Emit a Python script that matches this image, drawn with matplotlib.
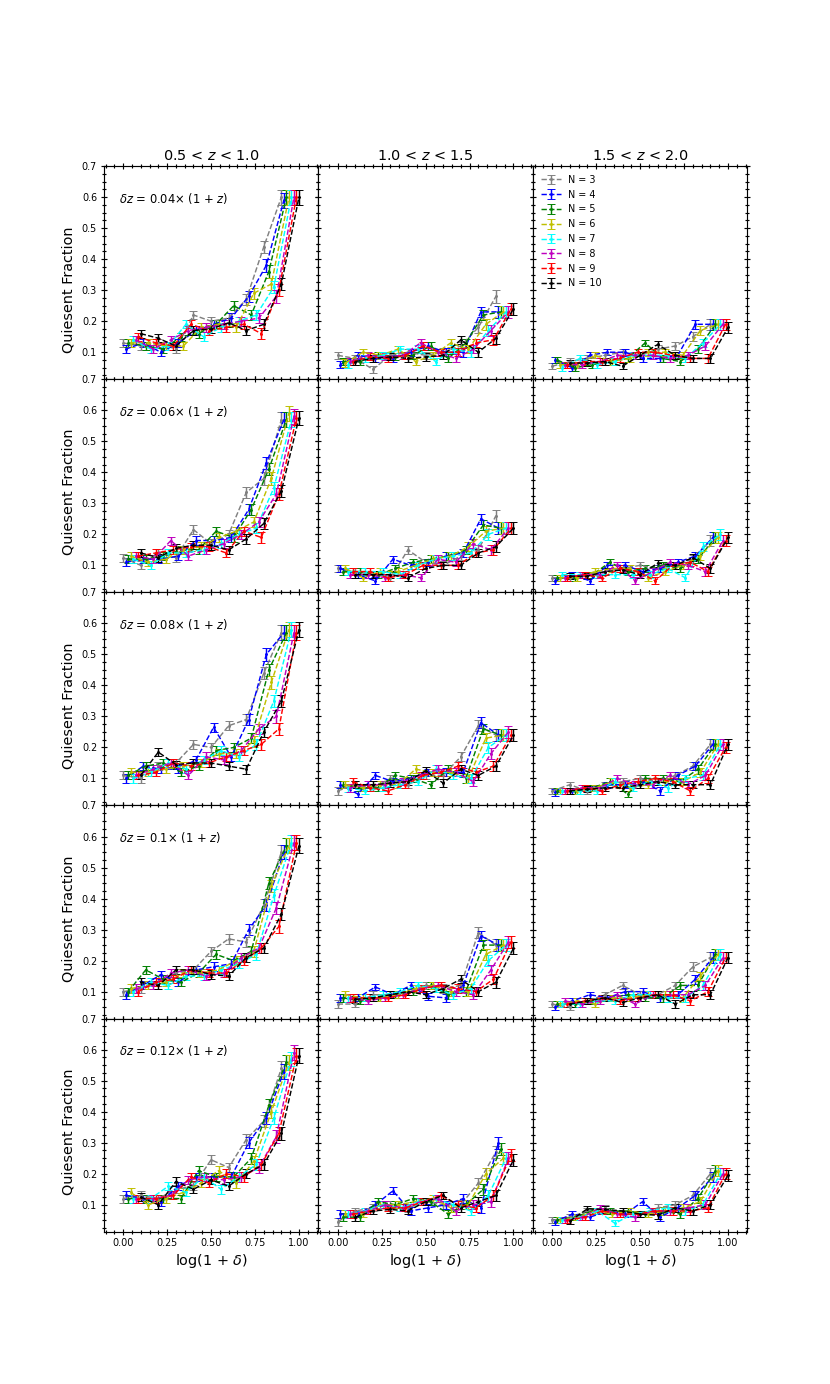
import numpy as np
import matplotlib.pyplot as plt
from matplotlib.ticker import MultipleLocator

z_bins = ['0.5 < $z$ < 1.0', '1.0 < $z$ < 1.5', '1.5 < $z$ < 2.0']
dz_labels = ['0.04', '0.06', '0.08', '0.1', '0.12']
n_values = [3, 4, 5, 6, 7, 8, 9, 10]
colors = ['gray', 'b', 'g', 'y', 'cyan', 'm', 'r', 'k']

# log(1+delta) bin centres
bins = [0.0, 0.1, 0.2, 0.3, 0.4, 0.5, 0.6, 0.7, 0.8, 0.9]

# typical error bar half-widths per redshift bin
err_z05 = [0.013, 0.013, 0.013, 0.013, 0.014, 0.014, 0.015, 0.017, 0.020, 0.024]
err_z10 = [0.012, 0.011, 0.011, 0.011, 0.012, 0.012, 0.013, 0.014, 0.017, 0.020]
err_z15 = [0.010, 0.010, 0.010, 0.010, 0.011, 0.011, 0.012, 0.012, 0.014, 0.017]

# quiescent fractions, one row per N = 3..10
dz04_z05 = [[0.13, 0.12, 0.13, 0.11, 0.22, 0.20, 0.21, 0.27, 0.44, 0.60],
            [0.11, 0.13, 0.10, 0.13, 0.17, 0.19, 0.21, 0.28, 0.38, 0.59],
            [0.13, 0.12, 0.11, 0.15, 0.16, 0.19, 0.25, 0.22, 0.36, 0.60],
            [0.13, 0.13, 0.12, 0.12, 0.18, 0.19, 0.18, 0.29, 0.32, 0.60],
            [0.14, 0.11, 0.12, 0.19, 0.15, 0.18, 0.20, 0.22, 0.31, 0.60],
            [0.14, 0.11, 0.14, 0.17, 0.18, 0.19, 0.20, 0.21, 0.28, 0.60],
            [0.15, 0.13, 0.12, 0.19, 0.17, 0.18, 0.19, 0.16, 0.30, 0.60],
            [0.16, 0.145, 0.12, 0.17, 0.175, 0.195, 0.17, 0.19, 0.32, 0.60]]
dz04_z10 = [[0.09, 0.08, 0.045, 0.09, 0.10, 0.09, 0.10, 0.12, 0.18, 0.28],
            [0.06, 0.09, 0.08, 0.08, 0.10, 0.12, 0.10, 0.10, 0.23, 0.23],
            [0.07, 0.07, 0.09, 0.085, 0.09, 0.12, 0.08, 0.13, 0.22, 0.23],
            [0.065, 0.10, 0.09, 0.11, 0.07, 0.09, 0.13, 0.11, 0.19, 0.23],
            [0.06, 0.08, 0.09, 0.11, 0.11, 0.07, 0.11, 0.10, 0.17, 0.23],
            [0.07, 0.09, 0.085, 0.09, 0.13, 0.10, 0.08, 0.11, 0.17, 0.23],
            [0.07, 0.085, 0.08, 0.09, 0.12, 0.10, 0.10, 0.13, 0.14, 0.24],
            [0.07, 0.08, 0.085, 0.08, 0.085, 0.09, 0.14, 0.10, 0.145, 0.24]]
dz04_z15 = [[0.055, 0.07, 0.08, 0.09, 0.10, 0.09, 0.11, 0.12, 0.15, 0.19],
            [0.075, 0.05, 0.09, 0.10, 0.10, 0.08, 0.08, 0.09, 0.19, 0.19],
            [0.075, 0.05, 0.06, 0.07, 0.08, 0.13, 0.08, 0.07, 0.11, 0.19],
            [0.06, 0.06, 0.09, 0.07, 0.08, 0.10, 0.10, 0.09, 0.17, 0.19],
            [0.05, 0.08, 0.06, 0.07, 0.09, 0.09, 0.09, 0.08, 0.13, 0.19],
            [0.06, 0.06, 0.07, 0.09, 0.09, 0.09, 0.08, 0.09, 0.12, 0.19],
            [0.06, 0.07, 0.07, 0.08, 0.10, 0.10, 0.09, 0.08, 0.08, 0.19],
            [0.065, 0.065, 0.07, 0.055, 0.09, 0.125, 0.09, 0.08, 0.08, 0.18]]

dz06_z05 = [[0.125, 0.10, 0.14, 0.125, 0.215, 0.17, 0.20, 0.335, 0.38, 0.57],
            [0.11, 0.12, 0.12, 0.13, 0.18, 0.18, 0.19, 0.28, 0.43, 0.57],
            [0.12, 0.12, 0.13, 0.15, 0.15, 0.21, 0.19, 0.28, 0.41, 0.57],
            [0.13, 0.11, 0.12, 0.15, 0.16, 0.19, 0.21, 0.24, 0.38, 0.59],
            [0.12, 0.10, 0.14, 0.14, 0.15, 0.17, 0.20, 0.22, 0.35, 0.57],
            [0.13, 0.12, 0.18, 0.13, 0.15, 0.17, 0.20, 0.24, 0.33, 0.58],
            [0.13, 0.14, 0.15, 0.16, 0.16, 0.14, 0.21, 0.19, 0.33, 0.575],
            [0.14, 0.125, 0.155, 0.165, 0.165, 0.15, 0.185, 0.235, 0.34, 0.575]]
dz06_z10 = [[0.09, 0.08, 0.07, 0.06, 0.15, 0.11, 0.10, 0.13, 0.15, 0.26],
            [0.09, 0.07, 0.05, 0.12, 0.10, 0.11, 0.13, 0.14, 0.25, 0.22],
            [0.08, 0.08, 0.07, 0.09, 0.11, 0.12, 0.13, 0.15, 0.23, 0.22],
            [0.09, 0.06, 0.08, 0.08, 0.10, 0.12, 0.13, 0.16, 0.21, 0.22],
            [0.08, 0.08, 0.08, 0.07, 0.10, 0.12, 0.13, 0.14, 0.20, 0.22],
            [0.07, 0.07, 0.06, 0.07, 0.06, 0.12, 0.11, 0.17, 0.15, 0.22],
            [0.08, 0.08, 0.06, 0.07, 0.10, 0.10, 0.10, 0.14, 0.15, 0.22],
            [0.07, 0.07, 0.07, 0.06, 0.09, 0.10, 0.10, 0.14, 0.16, 0.22]]
dz06_z15 = [[0.06, 0.06, 0.07, 0.08, 0.09, 0.10, 0.09, 0.10, 0.12, 0.18],
            [0.05, 0.07, 0.05, 0.10, 0.10, 0.08, 0.09, 0.11, 0.13, 0.19],
            [0.06, 0.06, 0.07, 0.11, 0.08, 0.09, 0.10, 0.09, 0.12, 0.19],
            [0.06, 0.06, 0.08, 0.09, 0.09, 0.06, 0.08, 0.10, 0.13, 0.19],
            [0.07, 0.07, 0.07, 0.07, 0.07, 0.07, 0.09, 0.06, 0.16, 0.20],
            [0.06, 0.07, 0.07, 0.10, 0.05, 0.08, 0.11, 0.10, 0.08, 0.18],
            [0.06, 0.07, 0.06, 0.09, 0.08, 0.05, 0.10, 0.11, 0.08, 0.18],
            [0.065, 0.065, 0.08, 0.085, 0.07, 0.107, 0.10, 0.125, 0.09, 0.19]]

dz08_z05 = [[0.11, 0.10, 0.14, 0.15, 0.21, 0.20, 0.27, 0.29, 0.44, 0.57],
            [0.10, 0.14, 0.13, 0.13, 0.16, 0.265, 0.17, 0.29, 0.50, 0.57],
            [0.11, 0.14, 0.15, 0.12, 0.14, 0.19, 0.20, 0.23, 0.45, 0.57],
            [0.12, 0.12, 0.13, 0.14, 0.15, 0.18, 0.18, 0.22, 0.41, 0.58],
            [0.10, 0.12, 0.15, 0.13, 0.16, 0.19, 0.17, 0.21, 0.35, 0.58],
            [0.11, 0.13, 0.15, 0.11, 0.17, 0.16, 0.19, 0.26, 0.30, 0.57],
            [0.11, 0.12, 0.15, 0.14, 0.15, 0.17, 0.19, 0.21, 0.26, 0.57],
            [0.11, 0.185, 0.145, 0.15, 0.15, 0.14, 0.13, 0.25, 0.35, 0.58]]
dz08_z10 = [[0.06, 0.08, 0.07, 0.10, 0.08, 0.11, 0.11, 0.17, 0.27, 0.24],
            [0.08, 0.05, 0.11, 0.09, 0.10, 0.12, 0.12, 0.12, 0.28, 0.24],
            [0.08, 0.07, 0.07, 0.11, 0.10, 0.08, 0.13, 0.10, 0.26, 0.24],
            [0.08, 0.07, 0.08, 0.08, 0.13, 0.12, 0.12, 0.10, 0.23, 0.24],
            [0.07, 0.06, 0.07, 0.08, 0.09, 0.13, 0.11, 0.10, 0.20, 0.24],
            [0.07, 0.08, 0.08, 0.09, 0.11, 0.13, 0.12, 0.09, 0.18, 0.25],
            [0.09, 0.07, 0.06, 0.08, 0.11, 0.12, 0.14, 0.12, 0.14, 0.24],
            [0.08, 0.08, 0.085, 0.09, 0.125, 0.085, 0.13, 0.11, 0.14, 0.24]]
dz08_z15 = [[0.06, 0.08, 0.06, 0.08, 0.09, 0.10, 0.09, 0.11, 0.14, 0.21],
            [0.055, 0.06, 0.07, 0.08, 0.08, 0.09, 0.06, 0.11, 0.14, 0.21],
            [0.06, 0.06, 0.07, 0.09, 0.05, 0.10, 0.10, 0.09, 0.13, 0.21],
            [0.06, 0.06, 0.07, 0.09, 0.07, 0.08, 0.09, 0.09, 0.12, 0.21],
            [0.06, 0.06, 0.06, 0.09, 0.07, 0.09, 0.07, 0.10, 0.11, 0.21],
            [0.06, 0.07, 0.07, 0.10, 0.08, 0.08, 0.11, 0.08, 0.11, 0.21],
            [0.06, 0.07, 0.06, 0.08, 0.09, 0.10, 0.09, 0.06, 0.10, 0.20],
            [0.06, 0.065, 0.07, 0.07, 0.08, 0.09, 0.08, 0.08, 0.08, 0.21]]

dz10_z05 = [[0.10, 0.11, 0.13, 0.16, 0.17, 0.23, 0.27, 0.26, 0.38, 0.55],
            [0.09, 0.12, 0.155, 0.13, 0.17, 0.18, 0.19, 0.30, 0.38, 0.55],
            [0.10, 0.17, 0.14, 0.13, 0.16, 0.22, 0.20, 0.23, 0.45, 0.57],
            [0.11, 0.12, 0.13, 0.16, 0.16, 0.17, 0.20, 0.23, 0.44, 0.57],
            [0.10, 0.13, 0.12, 0.15, 0.15, 0.17, 0.19, 0.22, 0.41, 0.58],
            [0.11, 0.12, 0.16, 0.17, 0.15, 0.16, 0.21, 0.24, 0.37, 0.58],
            [0.10, 0.13, 0.14, 0.17, 0.16, 0.16, 0.20, 0.24, 0.31, 0.58],
            [0.13, 0.12, 0.17, 0.17, 0.155, 0.15, 0.21, 0.24, 0.35, 0.57]]
dz10_z10 = [[0.06, 0.06, 0.09, 0.09, 0.10, 0.12, 0.11, 0.12, 0.29, 0.25],
            [0.08, 0.08, 0.115, 0.09, 0.12, 0.085, 0.08, 0.12, 0.28, 0.25],
            [0.08, 0.07, 0.08, 0.09, 0.10, 0.12, 0.09, 0.10, 0.25, 0.25],
            [0.09, 0.08, 0.08, 0.09, 0.11, 0.12, 0.10, 0.10, 0.22, 0.25],
            [0.08, 0.08, 0.09, 0.10, 0.12, 0.11, 0.09, 0.11, 0.20, 0.25],
            [0.08, 0.07, 0.08, 0.09, 0.11, 0.12, 0.10, 0.09, 0.17, 0.26],
            [0.08, 0.08, 0.08, 0.09, 0.11, 0.12, 0.11, 0.10, 0.14, 0.26],
            [0.075, 0.08, 0.09, 0.10, 0.09, 0.11, 0.14, 0.10, 0.13, 0.24]]
dz10_z15 = [[0.06, 0.05, 0.07, 0.09, 0.12, 0.09, 0.09, 0.12, 0.18, 0.21],
            [0.05, 0.07, 0.09, 0.08, 0.10, 0.10, 0.08, 0.09, 0.14, 0.21],
            [0.06, 0.06, 0.07, 0.08, 0.09, 0.08, 0.08, 0.12, 0.12, 0.22],
            [0.06, 0.07, 0.06, 0.08, 0.08, 0.09, 0.09, 0.08, 0.15, 0.22],
            [0.06, 0.06, 0.07, 0.07, 0.09, 0.09, 0.08, 0.08, 0.12, 0.22],
            [0.07, 0.06, 0.07, 0.09, 0.06, 0.09, 0.09, 0.09, 0.12, 0.21],
            [0.06, 0.07, 0.08, 0.07, 0.08, 0.09, 0.09, 0.07, 0.10, 0.21],
            [0.06, 0.07, 0.08, 0.065, 0.08, 0.09, 0.06, 0.09, 0.09, 0.21]]

dz12_z05 = [[0.12, 0.13, 0.12, 0.15, 0.16, 0.245, 0.22, 0.31, 0.37, 0.54],
            [0.13, 0.12, 0.11, 0.16, 0.19, 0.19, 0.19, 0.30, 0.38, 0.53],
            [0.12, 0.12, 0.12, 0.12, 0.21, 0.19, 0.19, 0.25, 0.42, 0.56],
            [0.14, 0.10, 0.12, 0.14, 0.17, 0.21, 0.17, 0.24, 0.40, 0.56],
            [0.12, 0.12, 0.16, 0.14, 0.19, 0.15, 0.19, 0.23, 0.38, 0.57],
            [0.12, 0.12, 0.13, 0.18, 0.19, 0.18, 0.19, 0.22, 0.32, 0.59],
            [0.12, 0.12, 0.13, 0.19, 0.17, 0.20, 0.19, 0.23, 0.33, 0.58],
            [0.125, 0.10, 0.175, 0.15, 0.18, 0.16, 0.20, 0.23, 0.33, 0.58]]
dz12_z10 = [[0.045, 0.08, 0.09, 0.10, 0.09, 0.11, 0.10, 0.10, 0.17, 0.27],
            [0.07, 0.07, 0.10, 0.145, 0.08, 0.09, 0.10, 0.12, 0.09, 0.30],
            [0.06, 0.06, 0.11, 0.10, 0.12, 0.11, 0.07, 0.10, 0.15, 0.28],
            [0.07, 0.07, 0.10, 0.10, 0.11, 0.12, 0.09, 0.10, 0.20, 0.25],
            [0.07, 0.08, 0.10, 0.09, 0.11, 0.12, 0.10, 0.08, 0.13, 0.25],
            [0.07, 0.08, 0.10, 0.09, 0.11, 0.12, 0.08, 0.10, 0.11, 0.25],
            [0.07, 0.08, 0.09, 0.09, 0.11, 0.13, 0.10, 0.09, 0.13, 0.26],
            [0.06, 0.08, 0.085, 0.08, 0.11, 0.13, 0.09, 0.11, 0.13, 0.245]]
dz12_z15 = [[0.05, 0.06, 0.08, 0.09, 0.07, 0.07, 0.09, 0.10, 0.13, 0.20],
            [0.045, 0.07, 0.06, 0.08, 0.07, 0.11, 0.06, 0.09, 0.13, 0.19],
            [0.05, 0.06, 0.08, 0.08, 0.08, 0.07, 0.08, 0.07, 0.12, 0.21],
            [0.05, 0.06, 0.08, 0.07, 0.08, 0.07, 0.08, 0.09, 0.11, 0.21],
            [0.05, 0.06, 0.08, 0.04, 0.07, 0.08, 0.09, 0.08, 0.10, 0.20],
            [0.05, 0.06, 0.09, 0.07, 0.06, 0.08, 0.08, 0.09, 0.10, 0.20],
            [0.05, 0.06, 0.08, 0.07, 0.07, 0.08, 0.08, 0.08, 0.09, 0.20],
            [0.047, 0.087, 0.085, 0.08, 0.07, 0.066, 0.09, 0.08, 0.10, 0.195]]

panels = [[dz04_z05, dz04_z10, dz04_z15],
          [dz06_z05, dz06_z10, dz06_z15],
          [dz08_z05, dz08_z10, dz08_z15],
          [dz10_z05, dz10_z10, dz10_z15],
          [dz12_z05, dz12_z10, dz12_z15]]
errs = [err_z05, err_z10, err_z15]

# small horizontal shift between the N series
shift = np.linspace(0, 0.1, len(n_values))

fig, axes = plt.subplots(5, 3, sharex=True, sharey=True, figsize=(12, 20))
fig.subplots_adjust(hspace=0, wspace=0)

for i in range(5):
    for j in range(3):
        ax = axes[i, j]
        for k, n in enumerate(n_values):
            ax.errorbar(np.array(bins) + shift[k], panels[i][j][k], yerr=errs[j],
                        fmt='.--', color=colors[k], ms=4, lw=1.5, capsize=4,
                        elinewidth=1.5, label='N = {}'.format(n))
        ax.tick_params(which='both', direction='inout', top=True, right=True,
                       labelsize=10, width=1.2)
        ax.tick_params(which='major', length=7)
        ax.tick_params(which='minor', length=4)
        ax.xaxis.set_minor_locator(MultipleLocator(0.05))
        ax.yaxis.set_minor_locator(MultipleLocator(0.025))
        for sp in ax.spines.values():
            sp.set_linewidth(1.2)
        if i == 0:
            ax.set_title(z_bins[j], fontsize=15)
        if j == 0:
            ax.set_ylabel('Quiesent Fraction', fontsize=15)
            ax.yaxis.set_label_coords(-0.13, 0.42 if i == 0 else 0.47)
            ax.text(0.07, 0.85, r'$\delta z$ = ' + dz_labels[i] + r'$\times$ (1 + $z$)',
                    transform=ax.transAxes, fontsize=12, va='center')
        if i == 4:
            ax.set_xlabel(r'log(1 + $\delta$)', fontsize=15)

axes[0, 0].set_xticks([0.0, 0.25, 0.5, 0.75, 1.0])
axes[0, 0].set_yticks([0.1, 0.2, 0.3, 0.4, 0.5, 0.6, 0.7])
axes[0, 0].set_xlim(-0.11, 1.11)
axes[0, 0].set_ylim(0.013, 0.7)

axes[0, 2].legend(loc='upper left', frameon=False, fontsize=10)

plt.savefig('out.png', dpi=69.2)
